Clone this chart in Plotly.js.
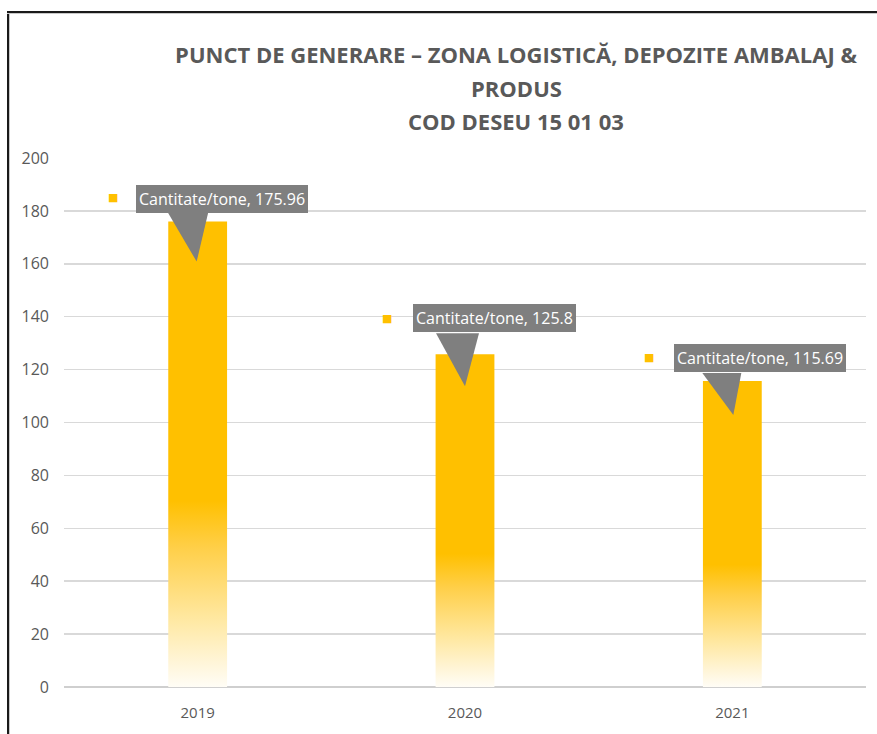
<!DOCTYPE html>
<html>
<head>
<meta charset="utf-8">
<script src="https://cdn.plot.ly/plotly-3.0.1.min.js"></script>
<style>
  html, body { margin: 0; padding: 0; background: #ffffff; }
  #wrap { position: relative; width: 877px; height: 734px; }
  #chart { width: 877px; height: 734px; }
  #frameLeft { position: absolute; left: 7px; top: 11px; width: 2px; height: 723px; background: #1a1a1a; border-right: 1px solid #c8c8c8; pointer-events: none; }
  #frameTop { position: absolute; left: 7px; top: 11px; width: 870px; height: 2px; background: #1a1a1a; border-bottom: 1px solid #c8c8c8; pointer-events: none; }
</style>
</head>
<body>
<div id="wrap">
  <div id="chart"></div>
  <div id="frameLeft"></div>
  <div id="frameTop"></div>
</div>
<script>
// ---- data ----
const years = ["2019", "2020", "2021"];
const cantitate = [175.96, 125.8, 115.69];
const seriesName = "Cantitate/tone";
const yTicks = [0, 20, 40, 60, 80, 100, 120, 140, 160, 180, 200];
const titleLines = ["PUNCT DE GENERARE – ZONA LOGISTICĂ, DEPOZITE AMBALAJ &", "PRODUS", "COD DESEU 15 01 03"];

// ---- label placement (pixel offsets relative to bar top) ----
const boxOffset = [[24, 23], [29, 36], [28, 23]];
const keyOffset = [[-85, 24], [-78, 36], [-83, 24]];
const pointer = [
  [[-31, 11], [11, 11], [-1, -40]],
  [[-29, 21], [14, 21], [0, -32]],
  [[-30, 8], [9, 8], [1, -34]]
];

const font = "Open Sans, Noto Sans, sans-serif";
const grey = "#7f7f7f";

const annotations = [];
const shapes = [];
years.forEach((yr, i) => {
  annotations.push({
    x: i, y: cantitate[i], xref: "x", yref: "y",
    xshift: boxOffset[i][0], yshift: boxOffset[i][1],
    text: seriesName + ", " + cantitate[i],
    showarrow: false, xanchor: "center", yanchor: "middle",
    bgcolor: grey, borderpad: 3, borderwidth: 0,
    font: { family: font, size: 16, color: "#ffffff" }
  });
  annotations.push({
    x: i, y: cantitate[i], xref: "x", yref: "y",
    xshift: keyOffset[i][0], yshift: keyOffset[i][1],
    text: "■", showarrow: false, xanchor: "center", yanchor: "middle",
    font: { family: "DejaVu Sans, sans-serif", size: 11, color: "#ffc000" }
  });
  const p = pointer[i];
  shapes.push({
    type: "path", xref: "x", yref: "y",
    xsizemode: "pixel", ysizemode: "pixel",
    xanchor: i, yanchor: cantitate[i],
    path: "M" + p[0][0] + "," + p[0][1] + " L" + p[1][0] + "," + p[1][1] + " L" + p[2][0] + "," + p[2][1] + " Z",
    fillcolor: grey, line: { width: 0 }, layer: "above"
  });
});

const plotL = 64, plotR = 11, plotT = 158, plotB = 47;
const plotW = 877 - plotL - plotR, plotH = 734 - plotT - plotB;
const toPaperX = px => (px - plotL) / plotW;
const toPaperY = py => (734 - plotB - py) / plotH;

// subtitle lines (title line spacing in the original is wider than Plotly's)
[[1, 88], [2, 121]].forEach(([k, py]) => {
  annotations.push({
    x: toPaperX(516), xref: "paper", y: toPaperY(py), yref: "paper",
    text: "<b>" + titleLines[k] + "</b>", showarrow: false,
    xanchor: "center", yanchor: "middle",
    font: { family: font, size: 22, color: "#595959" }
  });
});

const data = [{
  type: "bar",
  x: years,
  y: cantitate,
  name: seriesName,
  marker: { color: "#ffc000", line: { width: 0 } },
  hoverinfo: "x+y"
}];

const layout = {
  width: 877, height: 734,
  margin: { l: plotL, r: plotR, t: plotT, b: plotB },
  paper_bgcolor: "#ffffff", plot_bgcolor: "#ffffff",
  showlegend: false,
  bargap: 0.78,
  title: {
    text: "<b>" + titleLines[0] + "</b>",
    x: 516 / 877, xanchor: "center", xref: "container",
    y: 1 - 55 / 734, yanchor: "middle", yref: "container",
    font: { family: font, size: 22, color: "#595959" }
  },
  xaxis: {
    type: "category",
    range: [-0.5, 2.5],
    autorange: false,
    tickfont: { family: font, size: 15, color: "#595959" },
    showgrid: false, showline: false, ticks: "",
    ticklabelstandoff: 15
  },
  yaxis: {
    range: [0, 200],
    autorange: false,
    tickvals: yTicks,
    tickfont: { family: font, size: 16, color: "#595959" },
    gridcolor: "#d9d9d9", gridwidth: 1.5,
    zeroline: true, zerolinecolor: "#cfcfcf", zerolinewidth: 2.5,
    showline: false, ticks: "", ticklabelstandoff: 14
  },
  annotations: annotations,
  shapes: shapes,
  font: { family: font, color: "#595959" }
};

Plotly.newPlot("chart", data, layout, { displayModeBar: false, staticPlot: true }).then(gd => {
  const svg = gd.querySelector("svg.main-svg");
  const ns = "http://www.w3.org/2000/svg";
  let defs = svg.querySelector("defs");
  if (!defs) { defs = document.createElementNS(ns, "defs"); svg.insertBefore(defs, svg.firstChild); }
  const grad = document.createElementNS(ns, "linearGradient");
  grad.setAttribute("id", "barFade");
  grad.setAttribute("x1", "0"); grad.setAttribute("y1", "0");
  grad.setAttribute("x2", "0"); grad.setAttribute("y2", "1");
  [["0", "#ffc000"], ["0.6", "#ffc000"], ["0.7", "#ffcf48"], ["0.86", "#ffe9a5"], ["0.94", "#fff4d4"], ["1", "#fffdf6"]].forEach(s => {
    const st = document.createElementNS(ns, "stop");
    st.setAttribute("offset", s[0]);
    st.setAttribute("stop-color", s[1]);
    grad.appendChild(st);
  });
  defs.appendChild(grad);
  gd.querySelectorAll(".barlayer .point path").forEach(p => { p.style.fill = "url(#barFade)"; });
});
</script>
</body>
</html>
